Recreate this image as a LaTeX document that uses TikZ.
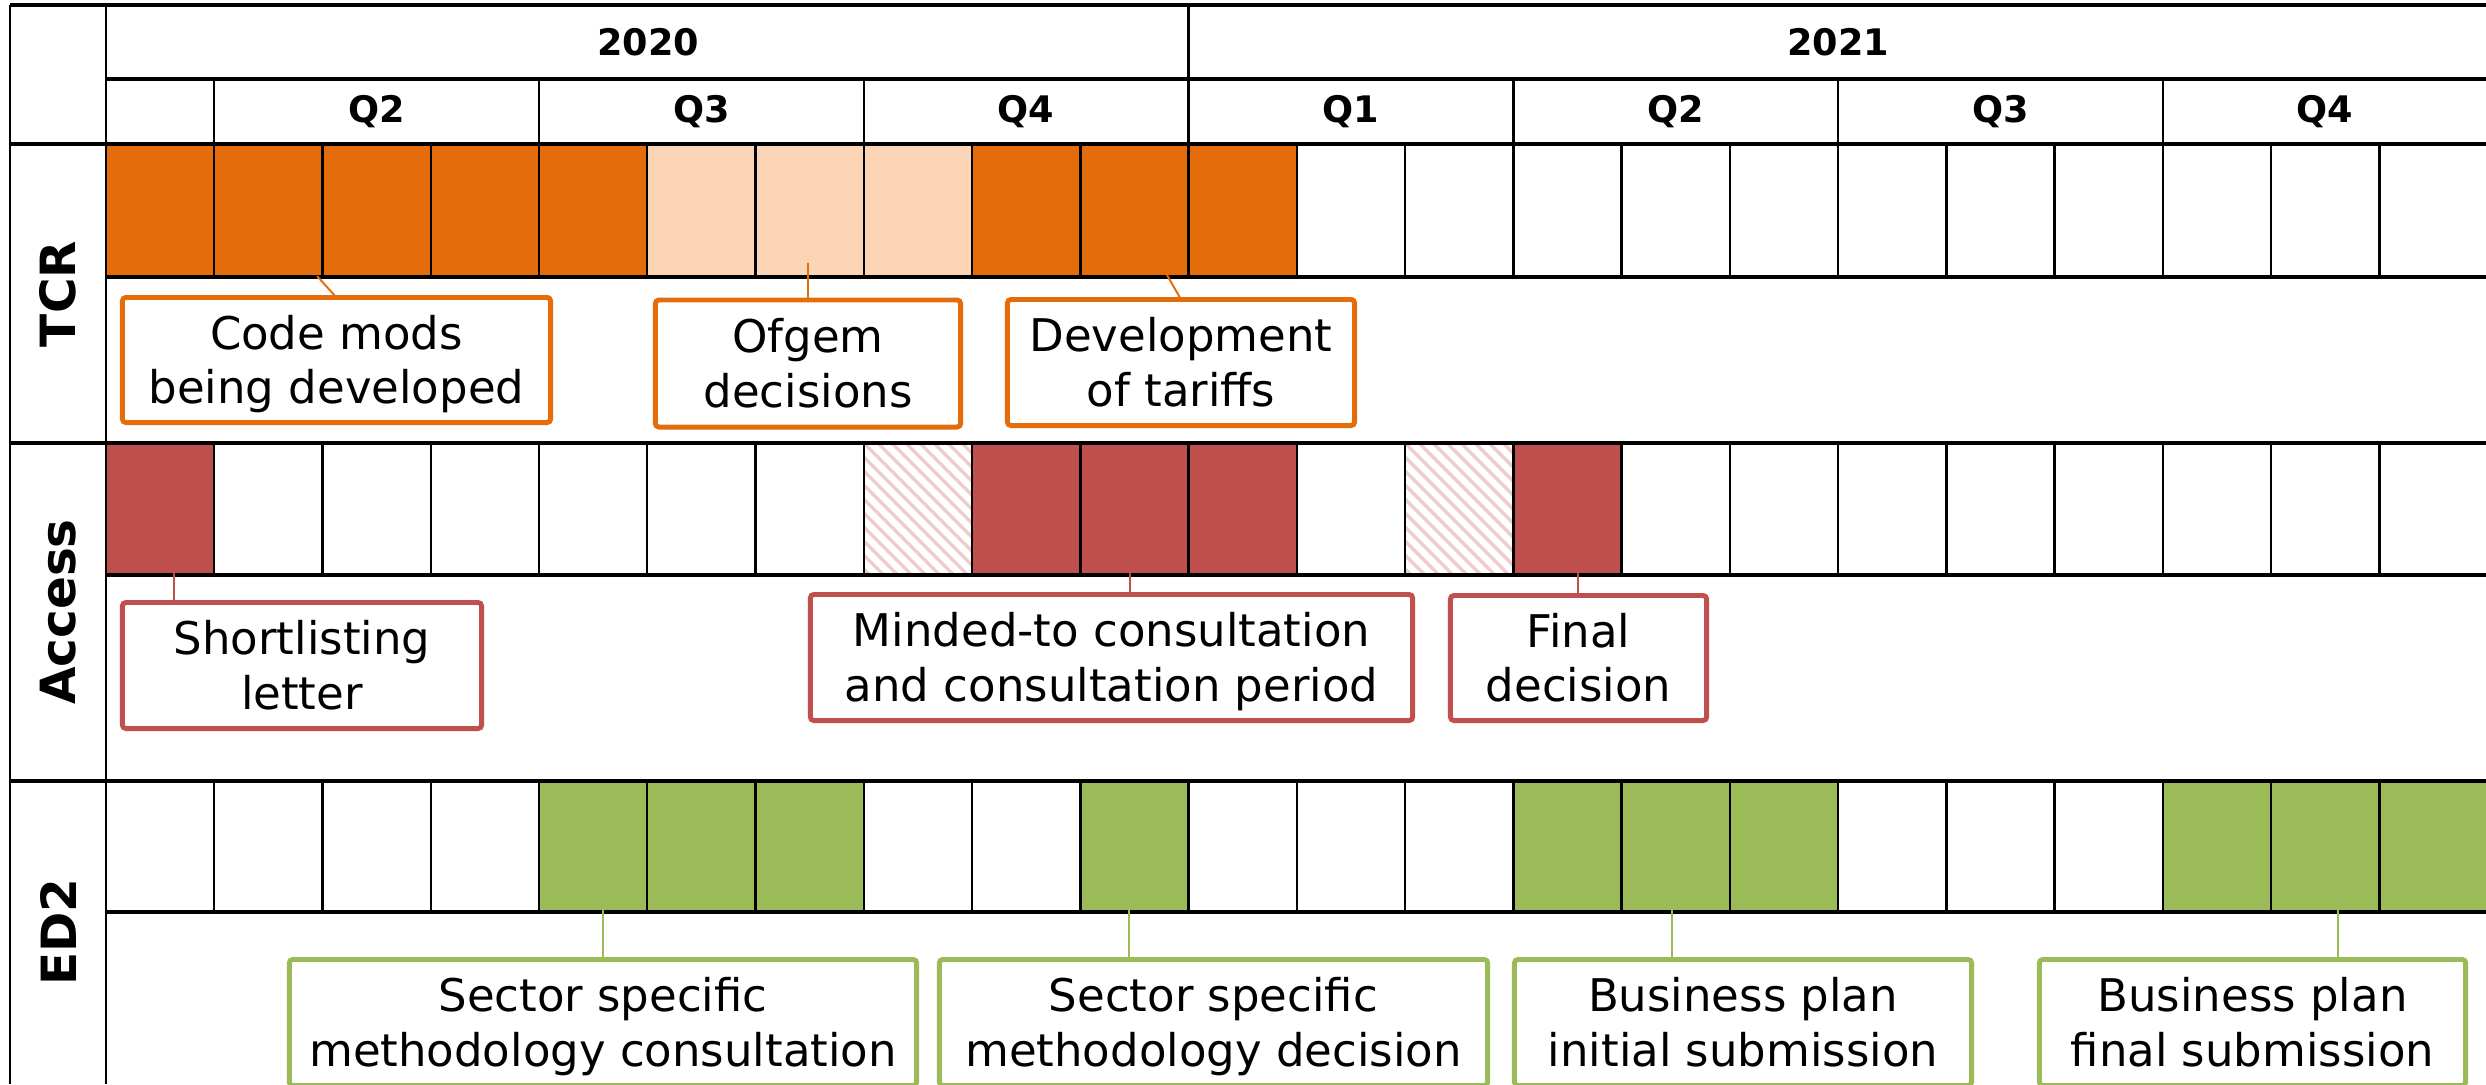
\documentclass[tikz,border=0pt]{standalone}
\usepackage{fontspec}
\setmainfont{DejaVu Sans}
\definecolor{tcrorange}{HTML}{E46C0A}
\definecolor{tcrpeach}{HTML}{FBD5B5}
\definecolor{accred}{HTML}{C0504D}
\definecolor{edgreen}{HTML}{9BBB59}
\definecolor{hatchpink}{HTML}{EFCDCC}
\newcommand\hdrfont{\fontsize{10.4}{12}\selectfont\bfseries}
\newcommand\rowfont{\fontsize{13.8}{16}\selectfont\bfseries}
\newcommand\calloutfont{\fontsize{12.8}{15.4}\selectfont}
\newcommand\ctext[2]{\rule{0pt}{13pt}#1\\#2\rule[-3.6pt]{0pt}{3.6pt}}
\begin{document}
\begin{tikzpicture}[x=0.01cm,y=-0.01cm,
  cellline/.style={line width=0.7pt,black},
  thickline/.style={line width=1pt,black},
  hatchline/.style={line width=1pt,hatchpink},
  hdr/.style={font=\hdrfont, inner sep=0pt},
  rowlabel/.style={font=\rowfont, rotate=90, inner sep=0pt},
  callout/.style={draw=#1, line width=1.4pt, fill=white, align=center, inner sep=0pt, outer sep=0pt, font=\calloutfont, rounded corners=1pt},
  conn/.style={draw=#1, line width=0.55pt}]
\useasboundingbox (0,0) rectangle (2486,1084);
\fill[white] (0,0) rectangle (2486,1084);

% ---- bar fills ----
\foreach \i in {0,1,2,3,4,8,9,10}
  \fill[tcrorange] ({106+108.25*\i},144) rectangle ({214.25+108.25*\i},277);
\foreach \i in {5,6,7}
  \fill[tcrpeach] ({106+108.25*\i},144) rectangle ({214.25+108.25*\i},277);
\foreach \i in {0,8,9,10,13}
  \fill[accred] ({106+108.25*\i},443) rectangle ({214.25+108.25*\i},575);
\foreach \i in {7,12}{
  \begin{scope}
    \clip ({106+108.25*\i},443) rectangle ({214.25+108.25*\i},575);
    \foreach \k in {-10,...,8}
      \draw[hatchline] ({106+108.25*\i+14*\k},443) -- ++(140,140);
  \end{scope}
}
\foreach \i in {4,5,6,9,13,14,15,19,20,21}
  \fill[edgreen] ({106+108.25*\i},781) rectangle ({214.25+108.25*\i},912);

% ---- cell lines ----
\foreach \i in {1,...,21}{
  \draw[cellline] ({106+108.25*\i},144) -- ({106+108.25*\i},277);
  \draw[cellline] ({106+108.25*\i},443) -- ({106+108.25*\i},575);
  \draw[cellline] ({106+108.25*\i},781) -- ({106+108.25*\i},912);
}
% quarter separators
\foreach \i in {1,4,7,13,16,19}
  \draw[cellline] ({106+108.25*\i},79) -- ({106+108.25*\i},144);
\draw[cellline] ({106+108.25*10},5) -- ({106+108.25*10},144);

% ---- frame lines ----
\draw[thickline] (10,5) -- (2486,5);
\draw[cellline] (10,5) -- (10,1084);
\draw[cellline] (106,5) -- (106,1084);
\draw[thickline] (106,79) -- (2486,79);
\draw[thickline] (10,144) -- (2486,144);
\draw[thickline] (106,277) -- (2486,277);
\draw[thickline] (10,443) -- (2486,443);
\draw[thickline] (106,575) -- (2486,575);
\draw[thickline] (10,781) -- (2486,781);
\draw[thickline] (106,912) -- (2486,912);

% ---- header texts ----
\node[hdr] (y2020) at (648,42) {2020};
\node[hdr] (y2021) at (1838,42) {2021};
\node[hdr] (q2a) at (376.6,112) {Q2};
\node[hdr] (q3a) at (701.4,112) {Q3};
\node[hdr] (q4a) at (1026.1,112) {Q4};
\node[hdr] (q1b) at (1350.9,112) {Q1};
\node[hdr] (q2b) at (1675.6,112) {Q2};
\node[hdr] (q3b) at (2000.4,112) {Q3};
\node[hdr] (q4b) at (2325.1,112) {Q4};

% ---- row labels ----
\node[rowlabel] (lTCR) at (58,294) {TCR};
\node[rowlabel] (lAccess) at (58,612) {Access};
\node[rowlabel] (lED) at (58,932) {ED2};

% ---- callouts ----
\node[callout=tcrorange, minimum width=4.28cm, minimum height=1.25cm] (codemods) at (336.5,360) {\ctext{Code mods}{being developed}};
\node[callout=tcrorange, minimum width=3.05cm, minimum height=1.27cm] (ofgem) at (808,363.5) {\ctext{Ofgem}{decisions}};
\node[callout=tcrorange, minimum width=3.47cm, minimum height=1.26cm] (devtariffs) at (1181,362.5) {\ctext{Development}{of tariffs}};

\node[callout=accred, minimum width=3.59cm, minimum height=1.26cm] (shortlist) at (302,665.5) {\ctext{Shortlisting}{letter}};
\node[callout=accred, minimum width=6.02cm, minimum height=1.26cm] (minded) at (1111.5,657.5) {\ctext{Minded-to consultation}{and consultation period}};
\node[callout=accred, minimum width=2.56cm, minimum height=1.25cm] (final) at (1578.5,658) {\ctext{Final}{decision}};

\node[callout=edgreen, minimum width=6.27cm, minimum height=1.26cm] (sectorcons) at (603,1022.5) {\ctext{Sector specific}{methodology consultation}};
\node[callout=edgreen, minimum width=5.48cm, minimum height=1.26cm] (sectordec) at (1213.5,1022.5) {\ctext{Sector specific}{methodology decision}};
\node[callout=edgreen, minimum width=4.57cm, minimum height=1.26cm] (bpinit) at (1743,1022.5) {\ctext{Business plan}{initial submission}};
\node[callout=edgreen, minimum width=4.26cm, minimum height=1.26cm] (bpfinal) at (2252.5,1022.5) {\ctext{Business plan}{final submission}};

% ---- connectors ----
\coordinate (cm0) at (317,276);
\coordinate (of0) at (808,263);
\coordinate (dt0) at (1167,275);
\coordinate (sl0) at (174,537);
\coordinate (mt0) at (1130,472);
\coordinate (fd0) at (1578,523);
\coordinate (sc0) at (603,877);
\coordinate (sd0) at (1129,892);
\coordinate (bi0) at (1672,895);
\coordinate (bf0) at (2338,897);
\draw[conn=tcrorange] (cm0) -- (codemods.north);
\draw[conn=tcrorange] (of0) -- (ofgem.north);
\draw[conn=tcrorange] (dt0) -- (devtariffs.north);
\draw[conn=accred] (sl0) -- (sl0 |- shortlist.north);
\draw[conn=accred] (mt0) -- (mt0 |- minded.north);
\draw[conn=accred] (fd0) -- (fd0 |- final.north);
\draw[conn=edgreen] (sc0) -- (sc0 |- sectorcons.north);
\draw[conn=edgreen] (sd0) -- (sd0 |- sectordec.north);
\draw[conn=edgreen] (bi0) -- (bi0 |- bpinit.north);
\draw[conn=edgreen] (bf0) -- (bf0 |- bpfinal.north);
\end{tikzpicture}
\end{document}
